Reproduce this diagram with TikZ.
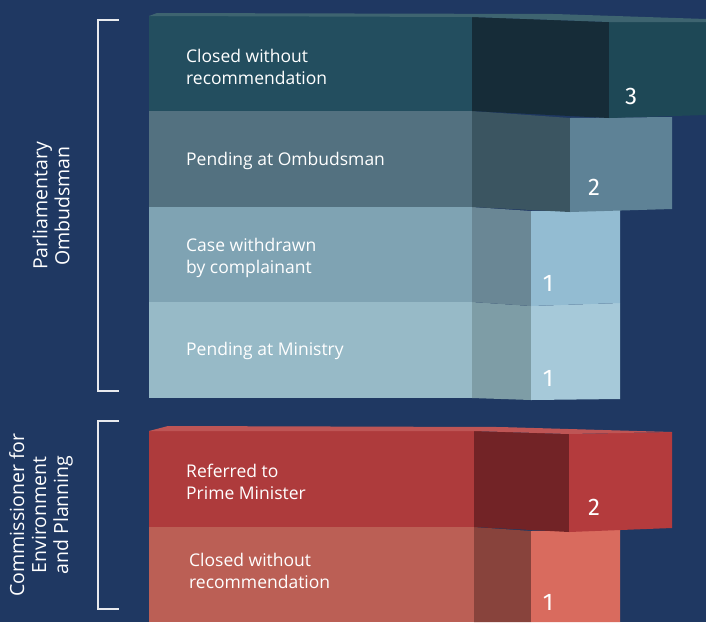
\documentclass[tikz,border=0pt]{standalone}
\usepackage{fontspec}
\setmainfont{Open Sans}
\newfontfamily\numfont{Fira Sans}
\definecolor{bg}{RGB}{31,56,98}
\definecolor{ra}{RGB}{35,78,95}
\definecolor{rasd}{RGB}{22,44,56}
\definecolor{rart}{RGB}{30,72,86}
\definecolor{ratp}{RGB}{62,100,112}
\definecolor{rb}{RGB}{83,113,128}
\definecolor{rbsd}{RGB}{59,85,97}
\definecolor{rbrt}{RGB}{94,130,150}
\definecolor{rc}{RGB}{127,163,179}
\definecolor{rcsd}{RGB}{106,135,149}
\definecolor{rcrt}{RGB}{147,188,210}
\definecolor{rd}{RGB}{151,186,199}
\definecolor{rdsd}{RGB}{126,157,166}
\definecolor{rdrt}{RGB}{166,201,217}
\definecolor{re}{RGB}{174,59,60}
\definecolor{resd}{RGB}{114,35,38}
\definecolor{rert}{RGB}{180,59,61}
\definecolor{retp}{RGB}{190,85,85}
\definecolor{rf}{RGB}{187,95,85}
\definecolor{rfsd}{RGB}{136,67,60}
\definecolor{rfrt}{RGB}{217,107,94}
\definecolor{brk}{RGB}{232,234,238}
\tikzset{
  lbl/.style={anchor=west, align=left, text=white, font=\fontsize{17.5}{22}\selectfont, inner sep=0pt},
  num/.style={text=white, font=\numfont\fontsize{24}{24}\selectfont, inner sep=0pt},
  grp/.style={rotate=90, align=center, text=white, font=\fontsize{19.5}{22}\selectfont, inner sep=0pt},
  brack/.style={draw=brk, line width=1.6pt}
}
\begin{document}
\begin{tikzpicture}[x=1pt,y=-1pt]
\fill[bg] (0,0) rectangle (706,622);
\useasboundingbox (0,0) rectangle (706,622);
% Row 4
\fill[rd] (149,302) rectangle (472,398);
\fill[rdsd] (472,302) -- (531,306) -- (531,400) -- (472,398) -- cycle;
\fill[rdrt] (531,306) -- (620,303) -- (620,399) -- (531,400) -- cycle;
% Row 3
\fill[rc] (149,207) rectangle (472,302);
\fill[rcsd] (472,207) -- (531,211) -- (531,306) -- (472,302) -- cycle;
\fill[rcrt] (531,211) -- (620,210) -- (620,303) -- (531,306) -- cycle;
% Row 2
\fill[rb] (149,111) rectangle (472,207);
\fill[rbsd] (472,111) -- (570,118) -- (570,212) -- (472,207) -- cycle;
\fill[rbrt] (570,118) -- (672,117) -- (672,209) -- (570,212) -- cycle;
% Row 1
\fill[ra] (149,16) rectangle (472,111);
\fill[rasd] (472,17) -- (609,22) -- (609,118) -- (472,111) -- cycle;
\fill[rart] (609,22) -- (706,22) -- (706,115) -- (609,118) -- cycle;
\fill[ratp] (149,16) -- (157,13) -- (555,14) -- (706,19) -- (706,22) -- (609,22) -- (472,17) -- cycle;
% Row 6
\fill[rf] (149,527) rectangle (474,622);
\fill[rfsd] (474,527) -- (531,531) -- (531,622) -- (474,622) -- cycle;
\fill[rfrt] (531,531) -- (620,530) -- (620,622) -- (531,622) -- cycle;
% Row 5
\fill[re] (149,431) rectangle (474,527);
\fill[resd] (474,431) -- (569,434) -- (569,532) -- (474,527) -- cycle;
\fill[rert] (569,434) -- (672,432) -- (672,528) -- (569,532) -- cycle;
\fill[retp] (149,431) -- (168,426) -- (500,427) -- (672,432) -- (569,434) -- (474,431) -- cycle;
% Brackets
\draw[brack] (119,20) -- (98,20) -- (98,391) -- (119,391);
\draw[brack] (119,421) -- (98,421) -- (98,609) -- (119,609);
% Labels
\node[lbl] (l1) at (186,67) {Closed without\\recommendation};
\node[lbl] (l2) at (186,161) {Pending at Ombudsman};
\node[lbl] (l3) at (186,258) {Case withdrawn\\by complainant};
\node[lbl] (l4) at (186,351) {Pending at Ministry};
\node[lbl] (l5) at (186,482) {Referred to\\Prime Minister};
\node[lbl] (l6) at (189,571) {Closed without\\recommendation};
% Numbers
\node[num] (n1) at (631,96) {3};
\node[num] (n2) at (594,187) {2};
\node[num] (n3) at (548,283) {1};
\node[num] (n4) at (548,378) {1};
\node[num] (n5) at (594,507) {2};
\node[num] (n6) at (548,602) {1};
% Group labels
\node[grp] (g1) at (51,206) {Parliamentary\\Ombudsman};
\node[grp] (g2) at (41,515) {Commissioner for\\Environment\\and Planning};
\end{tikzpicture}
\end{document}
